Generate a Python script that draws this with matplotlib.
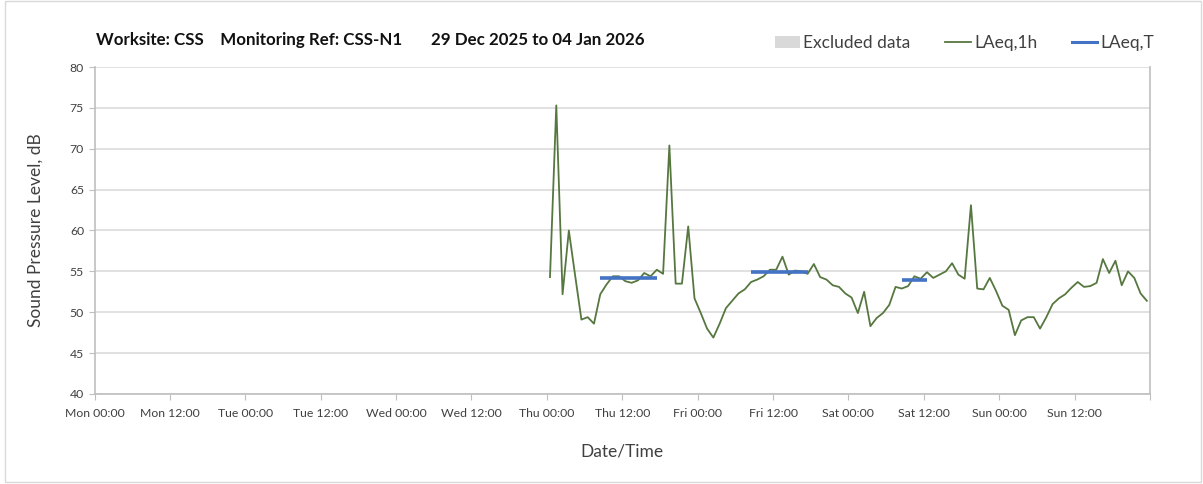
import pandas as pd
import matplotlib.pyplot as plt
import matplotlib.dates as mdates
from matplotlib.patches import Patch, Rectangle
from matplotlib.lines import Line2D

plt.rcParams["font.family"] = ["Lato", "DejaVu Sans"]

# hourly LAeq,1h values, Thu 01 Jan 2026 00:30 onwards
laeq_1h = [
    54.3, 75.3, 52.2, 60.0, 54.5, 49.1, 49.4, 48.6, 52.2, 53.4,
    54.4, 54.4, 53.8, 53.6, 53.9, 54.8, 54.4, 55.2, 54.7, 70.4,
    53.5, 53.5, 60.5, 51.7, 49.9, 48.0, 46.9, 48.6, 50.5, 51.4,
    52.3, 52.8, 53.7, 54.0, 54.4, 55.2, 55.2, 56.8, 54.6, 55.1,
    55.0, 54.7, 55.9, 54.3, 54.0, 53.3, 53.1, 52.3, 51.8, 49.9,
    52.5, 48.3, 49.3, 49.9, 50.9, 53.1, 52.9, 53.2, 54.4, 54.1,
    54.9, 54.2, 54.6, 55.0, 56.0, 54.6, 54.1, 63.1, 52.9, 52.8,
    54.2, 52.6, 50.8, 50.3, 47.2, 49.0, 49.4, 49.4, 48.0, 49.4,
    51.0, 51.7, 52.2, 53.0, 53.7, 53.1, 53.2, 53.6, 56.5, 54.8,
    56.3, 53.3, 55.0, 54.2, 52.3, 51.4,
]
first_hour = "2026-01-01 00:30"

# LAeq,T period values
laeq_t_start = ["2026-01-01 08:30", "2026-01-02 08:30", "2026-01-03 08:30"]
laeq_t_end = ["2026-01-01 17:30", "2026-01-02 17:30", "2026-01-03 12:30"]
laeq_t_values = [54.2, 54.9, 53.9]

# excluded periods (none this week)
excluded_start = []
excluded_end = []

week_start = pd.Timestamp("2025-12-29 00:00")
week_end = pd.Timestamp("2026-01-05 00:00")

times = pd.date_range(first_hour, periods=len(laeq_1h), freq="h")

fig = plt.figure(figsize=(12.03, 4.84), dpi=100)
ax = fig.add_axes([94.5 / 1203, 1 - 394 / 484, (1150 - 94.5) / 1203, (394 - 67) / 484])

for s, e in zip(excluded_start, excluded_end):
    ax.axvspan(pd.Timestamp(s), pd.Timestamp(e), color="#D9D9D9", lw=0)

ax.plot(times, laeq_1h, color="#56773F", lw=1.3, zorder=3)
for s, e, v in zip(laeq_t_start, laeq_t_end, laeq_t_values):
    ax.plot([pd.Timestamp(s), pd.Timestamp(e)], [v, v], color="#4472C4", lw=2.6,
            solid_capstyle="butt", zorder=4)

ax.set_xlim(week_start, week_end)
ax.set_ylim(40, 80)
ax.set_yticks(range(40, 81, 5))


def tick_fmt(x, pos):
    d = mdates.num2date(x).replace(tzinfo=None)
    if d >= week_end:
        return ""
    return d.strftime("%a %H:%M")


ax.xaxis.set_major_locator(mdates.HourLocator(byhour=[0, 12]))
ax.xaxis.set_major_formatter(plt.FuncFormatter(tick_fmt))
ax.xaxis.set_minor_locator(mdates.DayLocator())

ax.grid(axis="y", color="#D9D9D9", lw=1.1)
ax.grid(axis="x", which="minor", color="#D9D9D9", lw=1.1)
ax.set_axisbelow(True)

for side in ["left", "bottom", "right"]:
    ax.spines[side].set_color("#BFBFBF")
    ax.spines[side].set_linewidth(1.2)
ax.spines["top"].set_visible(False)

ax.tick_params(axis="x", which="major", length=4, color="#BFBFBF", labelsize=8.8,
               labelcolor="#404040", pad=6)
ax.tick_params(axis="x", which="minor", length=0)
ax.tick_params(axis="y", length=4, color="#BFBFBF", labelsize=8.8, labelcolor="#404040")

ax.set_ylabel("Sound Pressure Level, dB", fontsize=12.5, color="#404040", labelpad=19)
ax.set_xlabel("Date/Time", fontsize=12.5, color="#404040", labelpad=18)

fig.text(96 / 1203, 1 - 40 / 484,
         "Worksite: CSS    Monitoring Ref: CSS-N1       29 Dec 2025 to 04 Jan 2026",
         fontsize=12.2, fontweight="bold", va="center", ha="left", color="#111111")

handles = [
    Patch(facecolor="#D9D9D9", edgecolor="none"),
    Line2D([], [], color="#56773F", lw=1.3),
    Line2D([], [], color="#4472C4", lw=2.2),
]
fig.legend(handles, ["Excluded data", "LAeq,1h", "LAeq,T"], ncol=3, frameon=False,
           loc="center right", bbox_to_anchor=(1170 / 1203, 1 - 43 / 484),
           fontsize=12.5, labelcolor="#404040", handlelength=1.45, handletextpad=0.2,
           columnspacing=2.0)

fig.add_artist(Rectangle((5 / 1203, 2 / 484), 1196 / 1203, 481 / 484,
                         transform=fig.transFigure, fill=False, edgecolor="#D9D9D9", lw=1))

fig.savefig("out.png", dpi=100)
